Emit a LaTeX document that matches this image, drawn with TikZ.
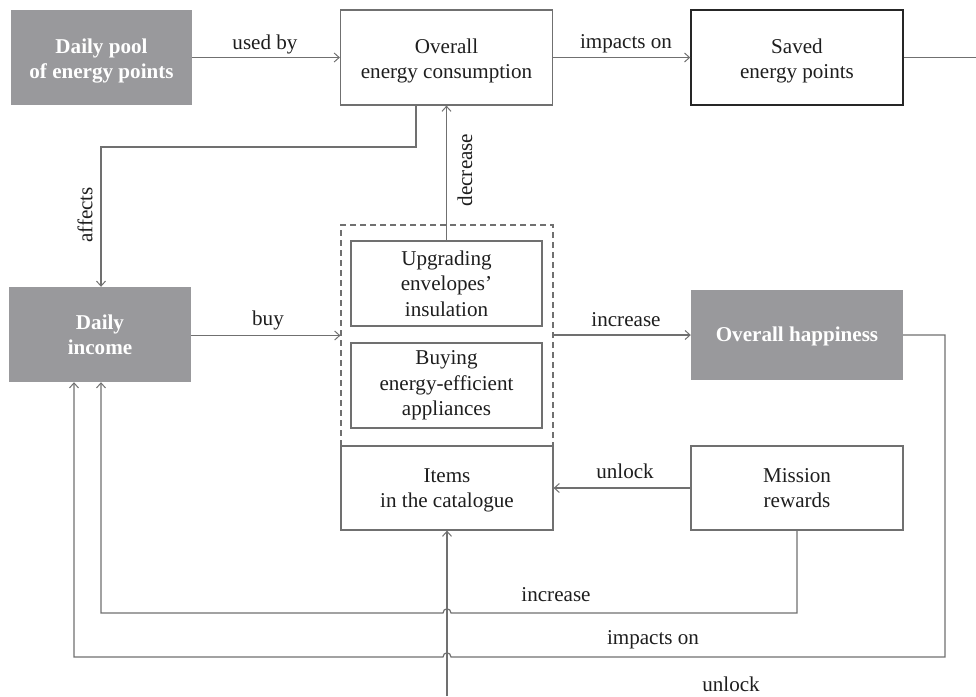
\documentclass[tikz,border=0pt]{standalone}
\usepackage{fontspec}
\setmainfont{Liberation Serif}
\usetikzlibrary{arrows.meta}
\definecolor{lc}{RGB}{112,112,112}
\definecolor{gf}{RGB}{153,153,156}
\definecolor{txt}{RGB}{30,30,30}
\newcommand{\toppad}{\rule{0pt}{21pt}}
\begin{document}
\begin{tikzpicture}[x=1pt,y=-1pt,
  font=\fontsize{21.1}{25.3}\selectfont,
  box/.style={draw=lc, line width=1.2pt, minimum width=212, minimum height=85, align=center, inner sep=0pt, text=txt},
  gbox/.style={fill=gf, text=white, font=\fontsize{21.1}{25.3}\selectfont\bfseries, align=center, inner sep=0pt},
  ln/.style={draw=lc, line width=1.2pt},
  conn/.style={ln, -{Straight Barb[length=5pt,width=9pt,line width=1pt]}},
  lbl/.style={text=txt, inner sep=0pt}]
\useasboundingbox (0,0) rectangle (976,696);

% nodes
\node[gbox, minimum width=181, minimum height=95] (pool) at (101.5,57.5) {\toppad Daily pool\\of energy points};
\node[box, minimum height=95] (oec) at (446.5,57.5) {\toppad Overall\\energy consumption};
\node[box, minimum height=95, draw=black!85, line width=1.5pt] (saved) at (797,57.5) {\toppad Saved\\energy points};
\node[gbox, minimum width=182, minimum height=95] (income) at (100,334.5) {Daily\\income};
\node[draw=lc, dashed, dash pattern=on 6pt off 4pt, line width=1.2pt, minimum width=212, minimum height=221, inner sep=0pt] (grp) at (447,335.5) {};
\node[box, minimum width=191] (upg) at (446.5,283.5) {Upgrading\\envelopes’\\insulation};
\node[box, minimum width=191] (buying) at (446.5,385.5) {Buying\\energy-efficient\\appliances};
\node[box, minimum height=84] (items) at (447,488) {\rule{0pt}{18pt}Items\\in the catalogue};
\node[gbox, minimum width=212, minimum height=90] (happy) at (797,335) {\rule{0pt}{18pt}Overall happiness};
\node[box, minimum height=84] (mission) at (797,488) {Mission\\rewards};

% coordinates
\coordinate (outR) at (976,57.5);
\coordinate (a1) at (416,147);
\coordinate (a2) at (101,147);
\coordinate (m1) at (797,613);
\coordinate (m2) at (101,613);
\coordinate (h1) at (945,335);
\coordinate (h2) at (945,657);
\coordinate (h3) at (74,657);
\coordinate (b0) at (447,696);

% connectors
\draw[conn] (pool) -- (oec);
\draw[conn] (oec) -- (saved);
\draw[ln] (saved) -- (outR);
\draw[conn] (oec.south -| a1) -- (a1) -- (a2) -- (income.north -| a2);
\draw[conn] (upg.north) -- (oec.south);
\draw[conn] (income.east |- grp.west) -- (grp.west);
\draw[conn] (grp.east |- happy.west) -- (happy.west);
\draw[conn] (mission.west) -- (items.east);
\draw[conn] (mission.south) -- (m1) -- (451,613) .. controls (451,607.5) and (443,607.5) .. (443,613) -- (m2) -- (income.south -| m2);
\draw[conn] (happy.east) -- (h1) -- (h2) -- (451,657) .. controls (451,651.5) and (443,651.5) .. (443,657) -- (h3) -- (income.south -| h3);
\draw[conn] (b0) -- (items.south -| b0);

% labels
\node[lbl] (l1) at (265,44) {used by};
\node[lbl] (l2) at (626,44) {impacts on};
\node[lbl, rotate=90] (l3) at (85,215) {affects};
\node[lbl, rotate=90] (l4) at (465,170) {decrease};
\node[lbl] (l5) at (268,320) {buy};
\node[lbl] (l6) at (626,320) {increase};
\node[lbl] (l7) at (625,471) {unlock};
\node[lbl] (l8) at (556,595) {increase};
\node[lbl] (l9) at (653,640) {impacts on};
\node[lbl] (l10) at (731,684) {unlock};
\end{tikzpicture}
\end{document}
